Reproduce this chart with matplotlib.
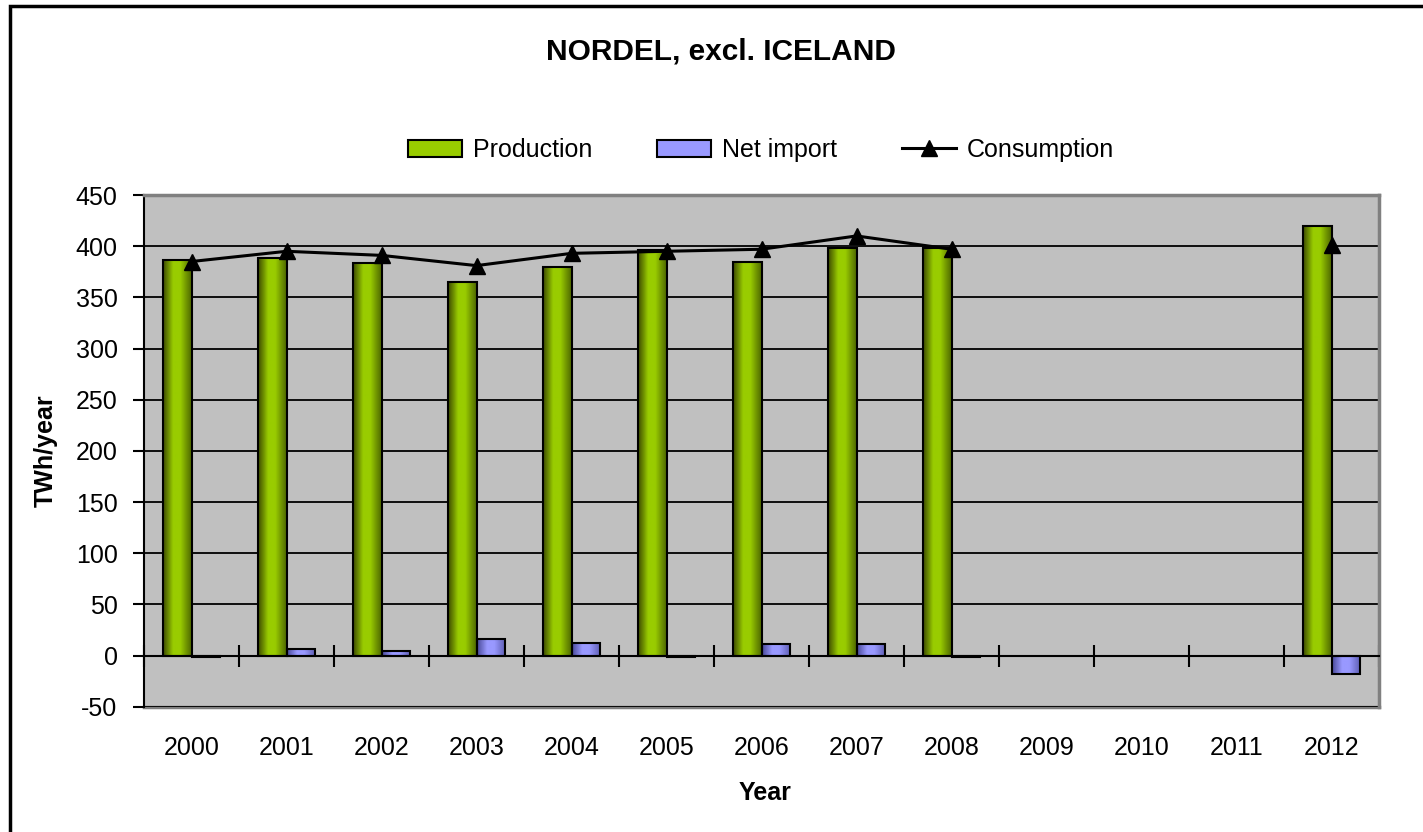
import numpy as np
import matplotlib
matplotlib.use('Agg')
import matplotlib.pyplot as plt
from matplotlib.colors import LinearSegmentedColormap
from matplotlib.patches import Patch, Rectangle
from matplotlib.lines import Line2D

plt.rcParams['font.family'] = ['Liberation Sans', 'DejaVu Sans']
plt.rcParams['axes.unicode_minus'] = False

years = ['2000', '2001', '2002', '2003', '2004', '2005', '2006',
         '2007', '2008', '2009', '2010', '2011', '2012']
production = [386, 388, 384, 365, 380, 396, 385, 398, 398, np.nan, np.nan, np.nan, 420]
net_import = [-1.5, 6, 4, 16, 12, -1.5, 11, 11, -1.5, np.nan, np.nan, np.nan, -18]
consumption = [385, 395, 391, 381, 393, 395, 397, 410, 397, np.nan, np.nan, np.nan, 401]

green_cm = LinearSegmentedColormap.from_list(
    'g', [(0, '#3d4a00'), (0.35, '#99cc00'), (0.6, '#99cc00'), (1, '#4d6600')])
blue_cm = LinearSegmentedColormap.from_list(
    'b', [(0, '#4a4a99'), (0.35, '#9999ff'), (0.6, '#9999ff'), (1, '#5c5cb0')])


def shade(ax, bars, cmap):
    # fake the excel gradient fill, clipped to each bar
    for b in bars:
        h = b.get_height()
        if not np.isfinite(h):
            continue
        x0, y0, w = b.get_x(), b.get_y(), b.get_width()
        im = ax.imshow(np.linspace(0, 1, 64).reshape(1, -1), cmap=cmap,
                       extent=[x0, x0 + w, y0, y0 + h], aspect='auto',
                       zorder=2.5, interpolation='bilinear')
        im.set_clip_path(b)


fig = plt.figure(figsize=(14.23, 8.32), dpi=100)
ax = fig.add_axes([144 / 1423, 1 - 706.7 / 832, 1235 / 1423, 511.7 / 832])
ax.set_facecolor('#c0c0c0')

x = np.arange(len(years))
w = 0.305
b1 = ax.bar(x - w / 2, production, w, facecolor='none', edgecolor='black', lw=1.5, zorder=3)
b2 = ax.bar(x + w / 2, net_import, w, facecolor='none', edgecolor='black', lw=1.5, zorder=3)
shade(ax, b1, green_cm)
shade(ax, b2, blue_cm)
ax.plot(x, consumption, color='black', lw=2.2, marker='^', ms=12, zorder=4)

ax.set_xlim(-0.5, len(years) - 0.5)
ax.set_ylim(-50, 450)
ax.set_yticks(np.arange(-50, 451, 50))
ax.yaxis.grid(True, color='black', lw=1.3)
ax.set_axisbelow(True)
ax.tick_params(axis='y', direction='out', length=8, width=1.5, labelsize=18, pad=11)

# category axis crosses at zero
ax.spines['bottom'].set_position(('data', 0))
ax.spines['bottom'].set_linewidth(1.5)
ax.set_xticks(np.arange(-0.5, len(years), 1.0))
ax.set_xticklabels([])
ax.tick_params(axis='x', direction='inout', length=16, width=1.5)
ax.spines['left'].set_linewidth(1.5)
for s in ['top', 'right']:
    ax.spines[s].set_color('#808080')
    ax.spines[s].set_linewidth(2.5)

sec = ax.secondary_xaxis('bottom')
sec.set_xticks(x, labels=years)
sec.tick_params(length=0, labelsize=18, pad=21)
sec.spines['bottom'].set_color('#808080')
sec.spines['bottom'].set_linewidth(2.5)

ax.set_ylabel('TWh/year', fontsize=18, fontweight='bold')
ax.yaxis.set_label_coords(-0.07, 0.5)
fig.text(765 / 1423, 1 - 793 / 832, 'Year', fontsize=18, fontweight='bold',
         ha='center', va='center')
fig.text(721 / 1423, 1 - 52 / 832, 'NORDEL, excl. ICELAND', fontsize=21.5,
         fontweight='bold', ha='center', va='center')

handles = [Patch(facecolor='#99cc00', edgecolor='black', lw=1.5),
           Patch(facecolor='#9999ff', edgecolor='black', lw=1.5),
           Line2D([], [], color='black', lw=2.2, marker='^', ms=12)]
fig.legend(handles, ['Production', 'Net import', 'Consumption'],
           loc='center', bbox_to_anchor=(761 / 1423, 1 - 150 / 832), ncol=3,
           frameon=False, fontsize=18, columnspacing=2.6, handlelength=2.15,
           handletextpad=0.44)

fig.add_artist(Rectangle((10 / 1423, -0.1), 1.2, 1.1 - 6 / 832, transform=fig.transFigure,
                         fill=False, edgecolor='black', lw=2.5))

fig.savefig('out.png', dpi=100)
